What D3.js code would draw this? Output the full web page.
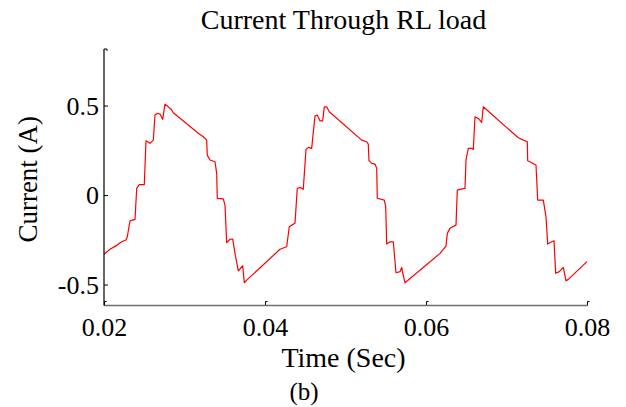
<!DOCTYPE html>
<html>
<head>
<meta charset="utf-8">
<script src="https://cdn.jsdelivr.net/npm/d3@7/dist/d3.min.js"></script>
<style>
  html, body { margin: 0; padding: 0; background: #fff; }
  svg { display: block; }
</style>
</head>
<body>
<svg id="chart" width="626" height="407"></svg>
<script>
// Simulated load current (A) versus time (s)
const timeSec = [
  0.020000, 0.020745, 0.021578, 0.022199, 0.022733, 0.022894, 0.023230, 0.023851,
  0.024062, 0.024385, 0.025006, 0.025217, 0.025714, 0.026124, 0.026335, 0.026621,
  0.026957, 0.027292, 0.027578, 0.027988, 0.028410, 0.028609, 0.031712, 0.032333,
  0.032755, 0.032830, 0.033165, 0.033789, 0.033999, 0.034074, 0.034819, 0.035030,
  0.035241, 0.035652, 0.035988, 0.036273, 0.036683, 0.037230, 0.037429, 0.037727,
  0.041863, 0.042695, 0.043016, 0.043314, 0.043724, 0.044010, 0.044345, 0.044755,
  0.045090, 0.045376, 0.045798, 0.046208, 0.046494, 0.046829, 0.047165, 0.047363,
  0.047661, 0.047984, 0.052010, 0.052631, 0.052830, 0.052917, 0.053252, 0.053665,
  0.053876, 0.053950, 0.054820, 0.054994, 0.055118, 0.055528, 0.055938, 0.056273,
  0.056770, 0.056981, 0.057105, 0.057391, 0.061739, 0.062484, 0.062646, 0.062981,
  0.063317, 0.063727, 0.063888, 0.064224, 0.064845, 0.064969, 0.065255, 0.065677,
  0.065876, 0.066087, 0.066497, 0.066919, 0.067118, 0.071465, 0.071888, 0.072583,
  0.072633, 0.073130, 0.073664, 0.073875, 0.074571, 0.074907, 0.075118, 0.075615,
  0.075901, 0.076112, 0.076559, 0.077056, 0.077391, 0.077677, 0.080000
];
const currentA = [
  -0.331, -0.303, -0.281, -0.261, -0.251, -0.233, -0.144, -0.136,
   0.037,  0.058,  0.058,  0.303,  0.289,  0.307,  0.447,  0.456,
   0.453,  0.423,  0.508,  0.493,  0.475,  0.460,  0.345,  0.326,
   0.307,  0.223,  0.196,  0.186,  0.121, -0.018, -0.021, -0.056,
  -0.266, -0.247, -0.246, -0.326, -0.423, -0.395, -0.490, -0.475,
  -0.303, -0.289, -0.177, -0.168, -0.158,  0.037,  0.043,  0.032,
   0.255,  0.266,  0.261,  0.441,  0.447,  0.415,  0.415,  0.493,
   0.493,  0.465,  0.307,  0.298,  0.285,  0.192,  0.177,  0.173,
   0.149, -0.018, -0.028, -0.065, -0.274, -0.261, -0.261, -0.434,
  -0.428, -0.404, -0.434, -0.490, -0.326, -0.285, -0.214, -0.186,
  -0.177, -0.168,  0.028,  0.032,  0.037,  0.196,  0.261,  0.261,
   0.255,  0.437,  0.428,  0.406,  0.493,  0.320,  0.311,  0.298,
   0.192,  0.180,  0.168, -0.028, -0.028, -0.121, -0.274, -0.261,
  -0.255, -0.437, -0.428, -0.404, -0.479, -0.471, -0.372
];

const xTickValues = [0.02, 0.04, 0.06, 0.08];
const xTickLabels = ["0.02", "0.04", "0.06", "0.08"];
const yTickValues = [-0.5, 0, 0.5];
const yTickLabels = ["-0.5", "0", "0.5"];

const titleText = "Current Through RL load";
const xLabelText = "Time (Sec)";
const yLabelText = "Current (A)";
const captionText = "(b)";

const serif = '"Liberation Serif", "Times New Roman", Times, serif';

// Plot frame
const plot = { left: 104, right: 587, top: 49, bottom: 305.5 };
const xDomain = [0.02, 0.08];
const yDomain = [-0.617, 0.816];

const svg = d3.select("#chart");

const x = d3.scaleLinear().domain(xDomain).range([plot.left, plot.right]);
const y = d3.scaleLinear().domain(yDomain).range([plot.bottom, plot.top]);

// Waveform
const points = timeSec.map((t, i) => [t, currentA[i]]);
svg.append("path")
  .datum(points)
  .attr("fill", "none")
  .attr("stroke", "#ff0000")
  .attr("stroke-width", 1.2)
  .attr("stroke-linejoin", "round")
  .attr("d", d3.line().x(d => x(d[0])).y(d => y(d[1])));

// X axis (ticks point inward)
const xAxis = d3.axisBottom(x)
  .tickValues(xTickValues)
  .tickFormat((d, i) => xTickLabels[i])
  .tickSize(0)
  .tickSizeOuter(0)
  .tickPadding(0);

const gx = svg.append("g")
  .attr("transform", `translate(0,${plot.bottom})`)
  .call(xAxis)
  .attr("font-family", serif)
  .attr("font-size", 26);
gx.select(".domain").remove();
gx.selectAll(".tick").append("path")
  .attr("d", "M0,0V-4H2")
  .attr("fill", "none")
  .attr("stroke", "#000")
  .attr("stroke-width", 1);
gx.selectAll(".tick text")
  .attr("y", 30)
  .attr("dy", 0)
  .attr("fill", "#000")
  .style("font-family", serif)
  .style("font-size", "26px")
  .attr("text-anchor", "middle");

svg.append("line")
  .attr("x1", plot.left).attr("x2", plot.right + 1)
  .attr("y1", plot.bottom).attr("y2", plot.bottom)
  .attr("stroke", "#6e6e6e")
  .attr("stroke-width", 1.4);

// Y axis (ticks point inward)
const yAxis = d3.axisLeft(y)
  .tickValues(yTickValues)
  .tickFormat((d, i) => yTickLabels[i])
  .tickSize(0)
  .tickSizeOuter(0)
  .tickPadding(0);

const gy = svg.append("g")
  .attr("transform", `translate(${plot.left},0)`)
  .call(yAxis)
  .attr("font-family", serif)
  .attr("font-size", 26);
gy.select(".domain").remove();
gy.selectAll(".tick").append("path")
  .attr("d", "M0,0H4")
  .attr("fill", "none")
  .attr("stroke", "#000")
  .attr("stroke-width", 1);
gy.selectAll(".tick text")
  .attr("x", -5)
  .attr("dy", "0.34em")
  .attr("fill", "#000")
  .style("font-family", serif)
  .style("font-size", "26px")
  .attr("text-anchor", "end");

svg.append("line")
  .attr("x1", plot.left).attr("x2", plot.left)
  .attr("y1", plot.top).attr("y2", plot.bottom)
  .attr("stroke", "#000")
  .attr("stroke-width", 1.2);
svg.append("path")
  .attr("d", `M${plot.left},${plot.top}H${plot.left + 3}V${plot.top + 2}`)
  .attr("fill", "none")
  .attr("stroke", "#000")
  .attr("stroke-width", 1);

// Titles
const midX = (plot.left + plot.right) / 2;
const label = (sel) => sel.attr("fill", "#000").style("font-family", serif);

svg.append("text")
  .attr("x", midX - 2).attr("y", 29)
  .attr("text-anchor", "middle")
  .style("font-size", "28px")
  .call(label)
  .text(titleText);

svg.append("text")
  .attr("x", midX - 2).attr("y", 367)
  .attr("text-anchor", "middle")
  .style("font-size", "28px")
  .call(label)
  .text(xLabelText);

svg.append("text")
  .attr("transform", `translate(37,${(plot.top + plot.bottom) / 2 + 2}) rotate(-90)`)
  .attr("text-anchor", "middle")
  .style("font-size", "27px")
  .call(label)
  .text(yLabelText);

svg.append("text")
  .attr("x", 304).attr("y", 400)
  .attr("text-anchor", "middle")
  .style("font-size", "25px")
  .call(label)
  .text(captionText);
</script>
</body>
</html>
